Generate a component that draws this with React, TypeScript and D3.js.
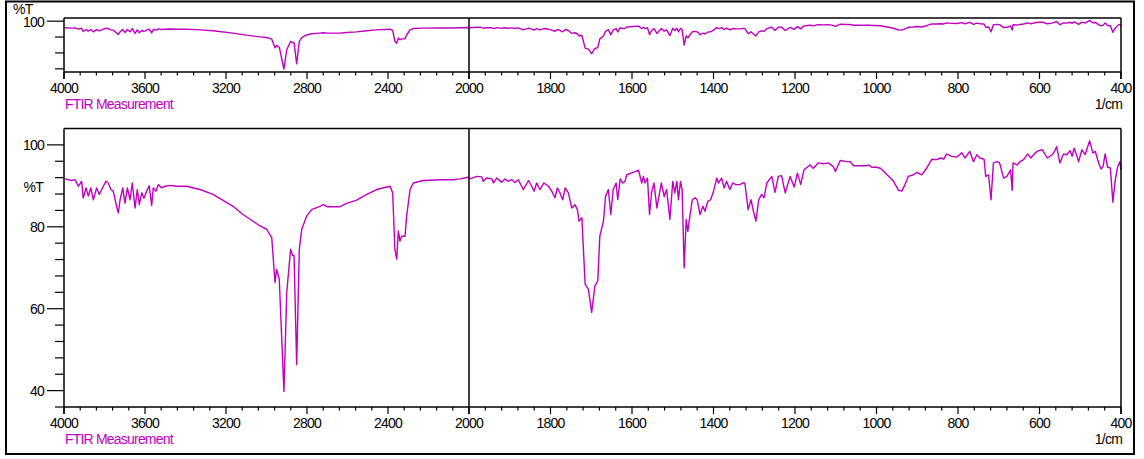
import React from 'react';
import * as d3 from 'd3';

// Wavenumber (1/cm) and %T
const wavenumbers = [
  3995, 3962, 3946, 3929, 3913, 3905, 3891, 3880, 3868, 3855, 3839, 3826, 3806, 3793, 3781, 3769, 3757, 3740, 3732, 3723,
  3710, 3699, 3687, 3674, 3663, 3649, 3638, 3628, 3616, 3605, 3592, 3579, 3567, 3559, 3546, 3534, 3518, 3501, 3477, 3443,
  3427, 3394, 3345, 3328, 3264, 3165, 3116, 3032, 2999, 2974, 2958, 2950, 2937, 2914, 2900, 2881, 2871, 2864, 2851, 2838,
  2826, 2802, 2777, 2736, 2720, 2700, 2637, 2604, 2555, 2505, 2456, 2390, 2377, 2366, 2357, 2349, 2341, 2332, 2316, 2308,
  2291, 2275, 2226, 2143, 2078, 2045, 2004,
  1998, 1981, 1969, 1965, 1957, 1944, 1940, 1932, 1920, 1912, 1904, 1895, 1887, 1879, 1867, 1854, 1846, 1840, 1834, 1826,
  1816, 1805, 1797, 1789, 1783, 1777, 1770, 1764, 1756, 1748, 1740, 1734, 1730, 1723, 1715, 1707, 1699, 1691, 1684, 1679,
  1670, 1665, 1658, 1652, 1646, 1639, 1635, 1629, 1623, 1617, 1613, 1597, 1584, 1576, 1572, 1568, 1562, 1557, 1552, 1546,
  1539, 1533, 1528, 1521, 1515, 1507, 1500, 1495, 1490, 1486, 1481, 1477, 1472, 1467, 1463, 1458, 1452, 1445, 1440, 1433,
  1426, 1421, 1414, 1407, 1400, 1392, 1388, 1380, 1374, 1368, 1360, 1353, 1345, 1335, 1328, 1323, 1315, 1308, 1302, 1296,
  1289, 1282, 1276, 1269, 1257, 1249, 1241, 1233, 1224,
  1212, 1202, 1194, 1186, 1178, 1163, 1155, 1143, 1130, 1118, 1106, 1101, 1089, 1073, 1065, 1056, 1024, 1019, 1011, 1003,
  990, 974, 958, 946, 938, 930, 922, 909, 901, 889, 877, 864, 852, 843, 835, 828, 816, 803, 791, 783,
  771, 762, 754, 746, 736, 732, 725, 719, 713, 704, 698, 688, 680, 671, 667, 665, 655, 648, 639, 629,
  621, 610, 602, 593, 581, 569, 563, 558, 550, 541, 533, 525, 520, 515, 510, 504, 496, 488, 477, 469,
  463, 455, 449, 444, 439, 433, 426, 420, 414, 408, 403, 400,
];
const transmittance = [
  91.7, 91.3, 91.5, 89.9, 91.1, 87.0, 89.5, 87.5, 89.5, 86.6, 89.5, 87.9, 89.9, 91.1, 90.7, 89.1, 88.7, 85.0, 83.4, 86.6,
  89.5, 85.8, 89.5, 86.6, 90.7, 84.6, 89.1, 85.4, 88.3, 87.0, 88.7, 90.0, 85.2, 89.5, 88.7, 90.3, 89.5, 89.9, 90.1, 89.9,
  89.9, 89.9, 89.3, 89.1, 87.9, 85.0, 83.0, 80.2, 79.4, 77.3, 66.4, 69.6, 67.2, 39.8, 64.0, 74.5, 73.0, 73.0, 46.3, 74.5,
  79.4, 82.6, 84.2, 85.0, 85.4, 84.9, 84.9, 85.7, 86.5, 87.9, 89.1, 89.9, 88.3, 74.5, 72.1, 79.0, 76.5, 77.7, 77.7, 82.6,
  89.1, 90.7, 91.3, 91.5, 91.5, 91.7, 92.1,
  91.7, 92.3, 92.2, 91.1, 91.9, 91.7, 90.7, 91.9, 90.9, 91.7, 91.1, 91.5, 90.8, 91.5, 89.1, 91.3, 89.9, 88.7, 90.7, 89.1,
  90.7, 89.9, 88.7, 87.1, 89.5, 88.3, 86.6, 89.5, 88.3, 84.6, 85.4, 84.2, 81.4, 82.2, 66.0, 64.8, 59.1, 65.6, 66.8, 77.7,
  81.4, 87.4, 89.1, 83.0, 89.1, 90.7, 86.6, 91.7, 90.7, 91.1, 92.7, 93.3, 93.8, 90.7, 92.3, 90.7, 91.9, 83.0, 88.3, 90.7,
  84.6, 87.9, 90.7, 87.4, 89.1, 81.8, 91.1, 88.3, 91.1, 86.6, 91.1, 89.1, 70.0, 81.8, 78.9, 82.6, 86.6, 87.1, 86.6, 83.0,
  85.0, 83.8, 86.2, 86.6, 88.7, 91.9, 90.7, 91.9, 89.5, 91.1, 89.1, 90.7, 90.3, 90.3, 90.7, 90.7, 84.2, 86.6, 83.8, 81.4,
  86.6, 87.9, 87.1, 90.7, 92.3, 88.4, 92.3, 92.5, 88.3,
  92.3, 89.7, 93.1, 90.3, 93.9, 95.1, 94.3, 95.6, 95.4, 95.6, 94.7, 93.5, 96.2, 95.9, 95.9, 94.9, 94.9, 95.1, 94.5, 94.6,
  94.3, 92.7, 91.1, 88.9, 88.7, 90.3, 92.3, 92.7, 93.3, 92.7, 94.3, 96.5, 96.4, 96.8, 96.5, 97.8, 97.2, 97.0, 98.1, 96.8,
  98.4, 95.9, 97.6, 96.8, 96.5, 92.3, 92.7, 86.6, 95.6, 95.9, 95.6, 91.9, 92.3, 93.9, 88.9, 95.6, 95.1, 95.9, 96.4, 97.8,
  96.8, 98.1, 98.6, 98.8, 96.8, 97.6, 98.4, 99.6, 95.6, 97.8, 97.6, 98.6, 97.2, 99.2, 97.8, 95.9, 98.8, 97.6, 101.0, 98.0,
  98.4, 95.6, 94.1, 94.7, 97.8, 94.6, 94.3, 86.0, 91.5, 94.7, 95.9, 93.9,
];

const xMajorLeft = [4000, 3600, 3200, 2800, 2400, 2000];
const xMajorRight = [1800, 1600, 1400, 1200, 1000, 800, 600, 400];
const yMajorTicks = [100, 80, 60, 40];
const seriesName = 'FTIR Measurement';
const xUnit = '1/cm';
const yUnit = '%T';

const MAGENTA = '#bf00bf';
const FONT = "'Liberation Sans', Arial, sans-serif";
const FS = 14;
const LS = -0.8;

const X0 = 64;
const XMID = 469;
const X1 = 1121;
const x = d3.scaleLinear().domain([4000, 2000, 400]).range([X0, XMID, X1]);

const minorLeft = d3.range(2000, 4001, 80).filter((w) => w % 400 !== 0);
const minorRight = d3.range(400, 2001, 40).filter((w) => w % 200 !== 0);

type PanelProps = { top: number; bottom: number; full: boolean };

function Panel({ top, bottom, full }: PanelProps) {
  const y = d3.scaleLinear().domain([36, 104]).range([bottom, top]);
  const line = d3
    .line<number>()
    .x((_, i) => x(wavenumbers[i]))
    .y((d) => y(d));
  const pathD = line(transmittance) || '';
  const yMinor = full ? d3.range(36, 101, 4).filter((v) => v % 20 !== 0) : [80, 60, 40];
  const yMajor = full ? yMajorTicks : [100];
  const labelY = bottom + 21;
  const nameY = bottom + 37;
  const textProps = { fontSize: FS, fontFamily: FONT, letterSpacing: LS };
  return (
    <g>
      <path d={pathD} fill="none" stroke={MAGENTA} strokeWidth={1.4} strokeLinejoin="round" />
      {/* frame */}
      <line x1={X0} y1={top} x2={X1} y2={top} stroke="#000" strokeWidth={1.5} />
      <line x1={X0} y1={bottom} x2={X1} y2={bottom} stroke="#000" strokeWidth={1.5} />
      <line x1={X0} y1={top} x2={X0} y2={bottom + 7} stroke="#000" strokeWidth={1.5} />
      <line x1={X1} y1={top} x2={X1} y2={bottom + 7} stroke="#000" strokeWidth={1.5} />
      <line x1={XMID} y1={top} x2={XMID} y2={bottom + 7} stroke="#000" strokeWidth={1.5} />
      {/* x ticks */}
      {[...minorLeft, ...minorRight].map((w) => (
        <line key={'mn' + w} x1={x(w)} x2={x(w)} y1={bottom} y2={bottom + 3.5} stroke="#000" strokeWidth={1.2} />
      ))}
      {[...xMajorLeft, ...xMajorRight].map((w) => (
        <line key={'mj' + w} x1={x(w)} x2={x(w)} y1={bottom} y2={bottom + 7} stroke="#000" strokeWidth={1.2} />
      ))}
      {[...xMajorLeft, ...xMajorRight].map((w) => (
        <text key={'lb' + w} x={x(w)} y={labelY} textAnchor="middle" {...textProps} fill="#000">
          {w}
        </text>
      ))}
      {/* y ticks */}
      {yMinor.map((v) => (
        <line key={'ymn' + v} x1={X0 - 9} x2={X0} y1={y(v)} y2={y(v)} stroke="#000" strokeWidth={1.2} />
      ))}
      {yMajor.map((v) => (
        <line key={'ymj' + v} x1={X0 - 17} x2={X0} y1={y(v)} y2={y(v)} stroke="#000" strokeWidth={1.2} />
      ))}
      {yMajor.map((v) => (
        <text key={'yl' + v} x={44} y={y(v) + 5.5} textAnchor="end" {...textProps} fill="#000">
          {v}
        </text>
      ))}
      {full ? (
        <text x={43} y={y(90) + 6} textAnchor="end" {...textProps} fill="#000">
          {yUnit}
        </text>
      ) : (
        <text x={13} y={14} {...textProps} fill="#000">
          {yUnit}
        </text>
      )}
      <text x={X0 + 1} y={nameY} {...textProps} fill={MAGENTA}>
        {seriesName}
      </text>
      <text x={X1 + 1} y={nameY} textAnchor="end" {...textProps} fill="#000">
        {xUnit}
      </text>
    </g>
  );
}

export default function App() {
  return (
    <svg
      width={1144}
      height={459}
      style={{ position: 'absolute', left: 0, top: 0, background: '#fff' }}
    >
      <rect x={0} y={0} width={1144} height={459} fill="#fff" />
      <rect x={6} y={1.5} width={1128} height={452.5} fill="none" stroke="#000" strokeWidth={2} />
      <Panel top={18} bottom={72} full={false} />
      <Panel top={128.5} bottom={407} full={true} />
    </svg>
  );
}
